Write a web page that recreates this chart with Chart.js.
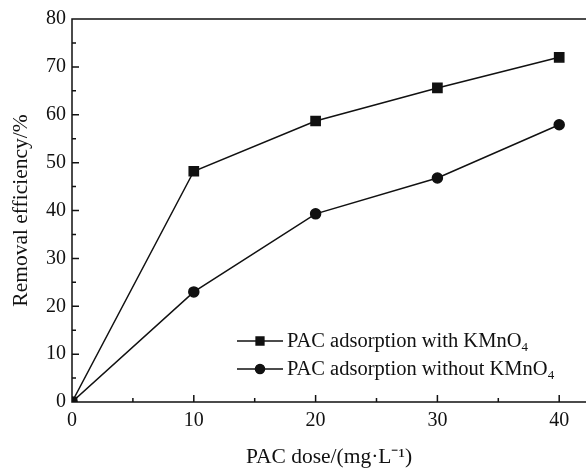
<!DOCTYPE html>
<html>
<head>
<meta charset="utf-8">
<script src="https://cdn.jsdelivr.net/npm/chart.js@4"></script>
<style>
  html, body { margin: 0; padding: 0; background: #fff; }
  #wrap { position: relative; width: 586px; height: 471px; overflow: hidden; }
  #legend { position: absolute; left: 237px; top: 326px; font-family: "Liberation Serif", serif; font-size: 20.5px; color: #111; }
  #legend div { height: 28px; line-height: 28px; white-space: nowrap; }
  #legend canvas { vertical-align: middle; margin-right: 4px; position: relative; top: -1px; }
  #legend sub { font-size: 13px; vertical-align: -4px; line-height: 0; }
</style>
</head>
<body>
<div id="wrap">
  <canvas id="chart" width="586" height="471"></canvas>
  <div id="legend"></div>
</div>
<script>
var doses = [0, 10, 20, 30, 40];
var withKMnO4 = [0, 48.2, 58.7, 65.6, 72.0];
var withoutKMnO4 = [0, 23.0, 39.3, 46.8, 57.9];
var seriesNames = ['PAC adsorption with KMnO4', 'PAC adsorption without KMnO4'];
var xTicks = [0, 10, 20, 30, 40];
var yTicks = [0, 10, 20, 30, 40, 50, 60, 70, 80];

var tickFont = { family: 'Liberation Serif', size: 20 };
var titleFont = { family: 'Liberation Serif', size: 21.5 };

function pts(xs, ys) {
    return xs.map(function (x, i) { return { x: x, y: ys[i] }; });
}

// inward ticks + left/top/bottom frame (right side is cut off in the original)
var frame = {
    id: 'frame',
    afterDraw: function (chart) {
        var ctx = chart.ctx, a = chart.chartArea;
        var xs = chart.scales.x, ys = chart.scales.y;
        ctx.save();
        ctx.strokeStyle = '#111';
        ctx.lineWidth = 1.5;
        ctx.beginPath();
        ctx.moveTo(a.right + 2, a.top);
        ctx.lineTo(a.left, a.top);
        ctx.lineTo(a.left, a.bottom);
        ctx.lineTo(a.right + 2, a.bottom);
        for (var v = 0; v <= 40; v += 5) {
            var px = xs.getPixelForValue(v);
            var len = v % 10 === 0 ? 7 : 4;
            ctx.moveTo(px, a.bottom);
            ctx.lineTo(px, a.bottom - len);
        }
        for (var w = 0; w <= 80; w += 5) {
            var py = ys.getPixelForValue(w);
            var l2 = w % 10 === 0 ? 7 : 4;
            ctx.moveTo(a.left, py);
            ctx.lineTo(a.left + l2, py);
        }
        ctx.stroke();
        ctx.restore();
    }
};

var chart = new Chart(document.getElementById('chart'), {
    type: 'line',
    data: {
        datasets: [{
            label: seriesNames[0],
            data: pts(doses, withKMnO4),
            borderColor: '#111',
            backgroundColor: '#111',
            borderWidth: 1.5,
            pointStyle: 'rect',
            pointRadius: 6.5,
            tension: 0
        }, {
            label: seriesNames[1],
            data: pts(doses, withoutKMnO4),
            borderColor: '#111',
            backgroundColor: '#111',
            borderWidth: 1.5,
            pointStyle: 'circle',
            pointRadius: 5,
            tension: 0
        }]
    },
    options: {
        responsive: false,
        animation: false,
        layout: { autoPadding: false, padding: { top: 19, right: 0, left: 0, bottom: 0 } },
        plugins: { legend: { display: false }, tooltip: { enabled: false } },
        scales: {
            x: {
                type: 'linear',
                min: 0,
                max: 42.2,
                afterBuildTicks: function (s) { s.ticks = xTicks.map(function (v) { return { value: v }; }); },
                afterFit: function (s) { s.height = 69; s.paddingLeft = 0; s.paddingRight = 0; },
                grid: { display: false, drawTicks: false },
                border: { display: false },
                ticks: { color: '#111', font: tickFont, padding: 7, maxRotation: 0 },
                title: { display: true, text: 'PAC dose/(mg·L⁻¹)', color: '#111', font: titleFont, padding: { top: 0, bottom: 1 } }
            },
            y: {
                min: 0,
                max: 80,
                afterBuildTicks: function (s) { s.ticks = yTicks.map(function (v) { return { value: v }; }); },
                afterFit: function (s) { s.width = 72; s.paddingTop = 0; s.paddingBottom = 0; },
                grid: { display: false, drawTicks: false },
                border: { display: false },
                ticks: { color: '#111', font: tickFont, padding: 6 },
                title: { display: true, text: 'Removal efficiency/%', color: '#111', font: titleFont, padding: { top: 8, bottom: 0 } }
            }
        }
    },
    plugins: [frame]
});

// legend built from the datasets
var legend = document.getElementById('legend');
chart.data.datasets.forEach(function (ds) {
    var row = document.createElement('div');
    var c = document.createElement('canvas');
    c.width = 46; c.height = 14;
    var g = c.getContext('2d');
    g.strokeStyle = '#111'; g.fillStyle = '#111'; g.lineWidth = 1.5;
    g.beginPath(); g.moveTo(0, 7); g.lineTo(46, 7); g.stroke();
    Chart.helpers.drawPoint(g, { pointStyle: ds.pointStyle, radius: ds.pointStyle === 'rect' ? 5.5 : 4.5, borderWidth: 1 }, 23, 7);
    g.fill();
    row.appendChild(c);
    var span = document.createElement('span');
    span.innerHTML = ds.label.replace('KMnO4', 'KMnO<sub>4</sub>');
    row.appendChild(span);
    legend.appendChild(row);
});
</script>
</body>
</html>
